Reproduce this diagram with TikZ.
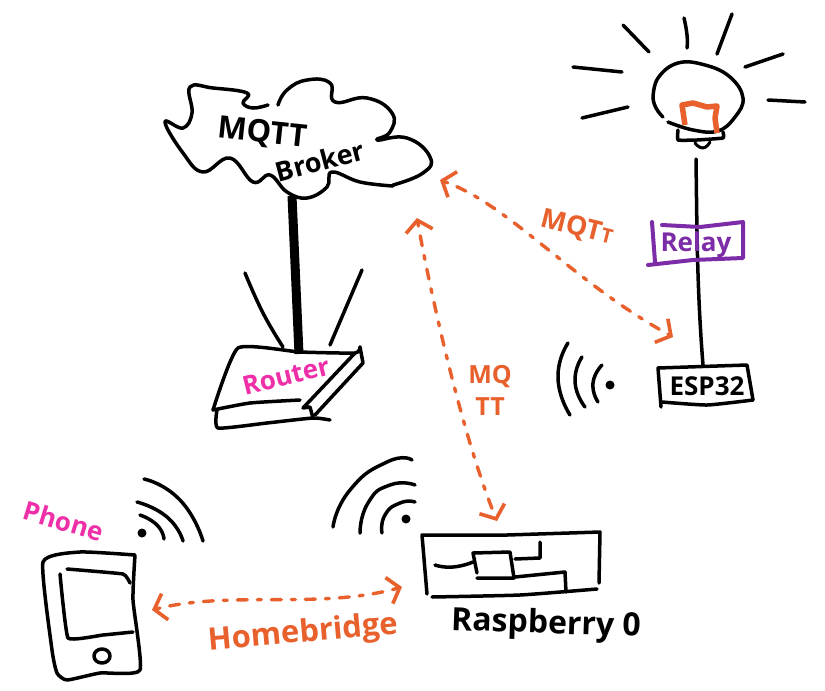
\documentclass[tikz,border=0pt]{standalone}
\usepackage{fontspec}
\setmainfont{Open Sans}
\usetikzlibrary{arrows.meta}
\definecolor{sketchorange}{HTML}{E8602C}
\definecolor{sketchpink}{HTML}{EE2FA8}
\definecolor{sketchpurple}{HTML}{7B2CA6}
\tikzset{
  pen/.style={black,line width=3.5pt,line cap=round,line join=round},
  purplepen/.style={sketchpurple,line width=4pt,line cap=round,line join=round},
  wireless/.style={sketchorange,line width=3.4pt,line cap=round,dash pattern=on 4pt off 10pt on 10pt off 10pt,
    {Straight Barb[length=11pt,width=27pt,line width=3.6pt]}-{Straight Barb[length=11pt,width=27pt,line width=3.6pt]}},
  lab/.style={inner sep=0pt,font=\bfseries\fontsize{#1}{#1}\selectfont},
}
\begin{document}
\begin{tikzpicture}[x=1pt,y=-1pt]
\path[use as bounding box,fill=white] (0,0) rectangle (825,691);

\draw[pen] plot[smooth,tension=0.8] coordinates {(278,105) (287,90) (307,80) (330,83) (335,102) (367,98) (392,113) (390,132) (377,140) (407,138) (430,157) (423,173) (393,185)};
\draw[pen] plot[smooth,tension=0.7] coordinates {(393,186) (360,182) (332,172) (327,187) (307,198) (287,192) (270,175) (253,182) (230,158) (203,172) (183,153) (165,122) (183,128) (192,113) (190,87) (213,88) (247,93) (243,103) (253,108) (268,105)};
\node[lab=31,rotate=-6] (mqtt) at (262,134) {MQTT};
\node[lab=27,rotate=15] (broker) at (320,161) {Broker};

\coordinate (cloudbot) at (292,196);
\coordinate (routertop) at (299,354);
\draw[pen,line width=9pt,line cap=butt] (cloudbot) -- (routertop);
\draw[pen] plot[smooth,tension=0.8] coordinates {(245,273) (263,313) (283,347)};
\draw[pen] (362,270) -- (330,345);
\draw[pen] plot[smooth,tension=0.3] coordinates {(213,410) (238,348) (300,352) (355,353) (360,347)};
\draw[pen] plot[smooth,tension=0.3] coordinates {(213,410) (250,403) (300,400)};
\draw[pen] plot[smooth,tension=0.3] coordinates {(217,410) (218,428) (267,423) (313,418) (330,420)};
\draw[pen] (355,353) -- (303,408) -- (310,407) -- (313,418);
\draw[pen] (315,415) -- (363,363) -- (360,347);
\node[lab=26,rotate=14,text=sketchpink] (router) at (286,376) {Router};

\draw[pen] plot[smooth,tension=0.7] coordinates {(653,98) (658,78) (678,63) (705,65) (730,77) (743,98) (735,117) (718,131) (693,130) (668,122)};
\draw[pen] plot[smooth,tension=1] coordinates {(663,117) (656,108) (653,98)};
\draw[sketchorange,line width=5.5pt,line join=round] (685,125) -- (682,105) -- (693,103) -- (707,107) -- (717,106) -- (715,118) -- (717,133);
\draw[pen] plot[smooth,tension=0.2] coordinates {(678,130) (678,140) (697,140) (723,138) (723,132)};
\draw[pen,line width=3pt] plot[smooth,tension=1] coordinates {(695,143) (703,148) (710,142)};
\draw[pen] (623,25) -- (649,52);
\draw[pen] plot[smooth,tension=1] coordinates {(684,18) (687,35) (687,48)};
\draw[pen] (732,14) -- (717,54);
\draw[pen] (745,67) -- (783,54);
\draw[pen] (768,100) -- (805,102);
\draw[pen] (573,67) -- (622,72);
\draw[pen] (582,118) -- (628,107);

\coordinate (wiretop) at (696,159);
\coordinate (wirebot) at (703,365);
\draw[pen] (wiretop) .. controls (697,230) and (697,290) .. (wirebot);

\draw[purplepen] (652,222) -- (655,262);
\draw[purplepen] (648,265) -- (693,260) -- (743,258) -- (743,222) -- (700,227) -- (662,225);
\node[lab=26,text=sketchpurple] (relay) at (696,245) {Relay};

\draw[pen] (661,407) -- (658,368) -- (747,365) -- (753,400);
\draw[pen] plot[smooth,tension=0.3] coordinates {(662,402) (707,405) (753,400)};
\node[lab=26] (esp) at (707,386) {ESP32};

\fill (610,385) circle (4.5pt);
\draw[pen] plot[smooth,tension=1] coordinates {(602,365) (593,383) (598,402)};
\draw[pen] plot[smooth,tension=1] coordinates {(582,357) (575,382) (585,407)};
\draw[pen] plot[smooth,tension=1] coordinates {(568,343) (558,378) (570,415)};

\coordinate (brokerright) at (440,180);
\coordinate (espleft) at (673,337);
\draw[wireless] (brokerright) .. controls (510,205) and (570,280) .. (espleft);
\node[lab=27,rotate=-14,text=sketchorange] (mqttright) at (577,228) {MQT{\fontsize{20}{20}\selectfont T}};

\coordinate (brokerbelow) at (417,218);
\coordinate (rasptop) at (497,521);
\draw[wireless] (brokerbelow) .. controls (428,280) and (460,430) .. (rasptop);
\node[lab=25,align=center,text=sketchorange] (mqttmid) at (490,390) {MQ\\[7pt]TT};

\draw[pen] plot[smooth,tension=0.3] coordinates {(135,555) (80,552) (43,562) (52,650) (57,673) (67,680) (100,673) (140,670) (133,600) (135,555)};
\draw[pen] plot[smooth,tension=0.2] coordinates {(67,569) (123,574) (130,583)};
\draw[pen] plot[smooth,tension=0.2] coordinates {(60,574) (68,638) (103,635) (133,632)};
\draw[pen] (102,656) ellipse (8pt and 7pt);
\node[lab=26,rotate=-17,text=sketchpink] (phone) at (64,521) {Phone};

\fill (142,533) circle (4.5pt);
\draw[pen] plot[smooth,tension=1] coordinates {(140,515) (157,525) (164,539)};
\draw[pen] plot[smooth,tension=1] coordinates {(137,502) (167,517) (183,541)};
\draw[pen] plot[smooth,tension=1] coordinates {(144,479) (180,500) (203,541)};

\coordinate (phoneright) at (152,610);
\coordinate (raspleft) at (402,587);
\draw[wireless] (phoneright) .. controls (230,590) and (320,610) .. (raspleft);
\node[lab=31,rotate=5,text=sketchorange] (homebridge) at (303,634) {Homebridge};

\fill (406,519) circle (4.5pt);
\draw[pen] plot[smooth,tension=1] coordinates {(415,502) (400,503) (385,515) (382,533)};
\draw[pen] plot[smooth,tension=1] coordinates {(415,485) (390,485) (368,503) (360,533)};
\draw[pen] plot[smooth,tension=1] coordinates {(412,460) (387,462) (350,490) (333,527)};

\draw[pen] (427,594) -- (422,535) -- (507,535) -- (600,532) -- (599,583);
\draw[pen] plot[smooth,tension=0.3] coordinates {(432,597) (520,595) (597,589)};
\draw[pen] (477,573) -- (473,553) -- (510,552) -- (514,578) -- (477,578);
\draw[pen] plot[smooth,tension=1] coordinates {(435,565) (453,567) (473,562)};
\draw[pen] (515,559) -- (540,558) -- (540,542);
\draw[pen] (515,577) -- (565,572) -- (566,592);
\node[lab=32,rotate=-2] (raspberry) at (546,625) {Raspberry 0};
\end{tikzpicture}
\end{document}
